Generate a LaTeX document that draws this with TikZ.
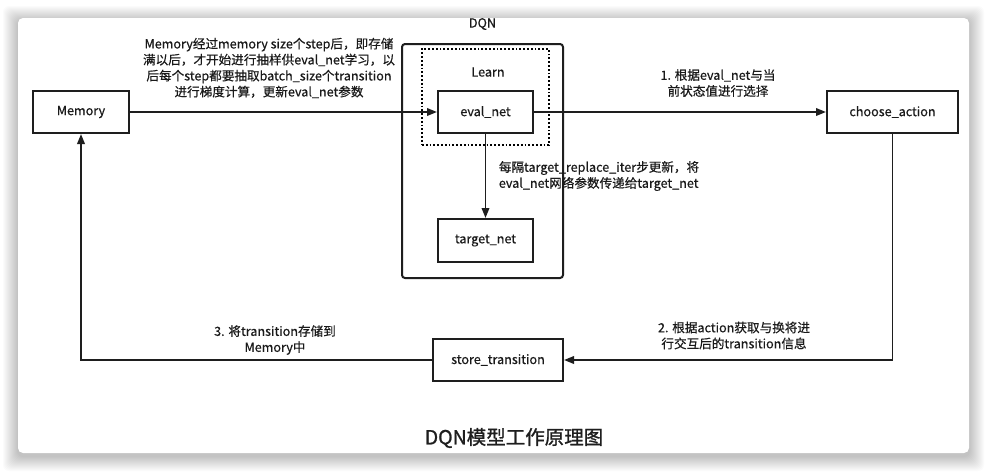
\documentclass[tikz,border=0pt]{standalone}
\usepackage{fontspec}
\setmainfont{Noto Sans CJK SC}[FakeBold=0.45]
\newfontfamily\titlefont{Noto Sans CJK SC}[FakeBold=1.1]
\usetikzlibrary{arrows.meta}
\definecolor{ink}{HTML}{1E1E1E}
\definecolor{txt}{HTML}{1A1A1A}
\tikzset{
  box/.style={draw=ink, line width=2pt, fill=white, inner sep=0pt, text=txt, font=\fontsize{12.6}{15}\selectfont},
  arr/.style={draw=ink, line width=1.9pt, -{Triangle[length=10pt,width=7.5pt]}},
  lbl/.style={align=center, text=txt, font=\fontsize{12.6}{16}\selectfont, inner sep=0pt},
}
\begin{document}
\begin{tikzpicture}[x=1pt,y=-1pt]
\useasboundingbox (0,0) rectangle (987,472);
\fill[white] (0,0) rectangle (987,472);
% shadow
\foreach \i in {1,...,15}{
  \fill[black, opacity=0.014, rounded corners=6pt] (18-\i,18-\i+3) rectangle (969+\i,453+\i+3);
}
\fill[white, rounded corners=5pt] (18,18) rectangle (969,453);

% DQN container
\node[draw=ink, line width=2pt, rounded corners=3pt, minimum width=161pt, minimum height=234pt, inner sep=0pt] (dqn) at (482.5,161) {};
\node[lbl] (dqnlbl) at (482.5,24) {DQN};
% Learn dotted
\node[draw=black, line width=1.8pt, dotted, minimum width=127pt, minimum height=96pt, inner sep=0pt] (learn) at (485.5,97) {};
\node[lbl] (learnlbl) at (488,72) {Learn};

% boxes
\node[box, minimum width=96pt, minimum height=42pt] (mem) at (81,112) {\raisebox{-1.5pt}{Memory}};
\node[box, minimum width=95pt, minimum height=42pt] (eval) at (485.5,112) {\raisebox{-1.5pt}{eval\_net}};
\node[box, minimum width=95pt, minimum height=43pt] (target) at (485.5,240.5) {\raisebox{-1.5pt}{target\_net}};
\node[box, minimum width=131pt, minimum height=42pt] (choose) at (892.5,112) {\raisebox{-1.5pt}{choose\_action}};
\node[box, minimum width=130pt, minimum height=42pt] (store) at (498,360) {\raisebox{-1.5pt}{store\_transition}};

% connectors
\draw[arr] (mem) -- (eval);
\draw[arr] (eval) -- (choose);
\draw[arr] (eval) -- (target);
\draw[arr] (choose.south) |- (store.east);
\draw[arr] (store.west) -| (mem.south);

% labels
\node[lbl] (l0) at (269,68) {Memory经过memory size个step后，即存储\\满以后，才开始进行抽样供eval\_net学习，以\\后每个step都要抽取batch\_size个transition\\进行梯度计算，更新eval\_net参数};
\node[lbl] (l1) at (718,83) {1. 根据eval\_net与当\\前状态值进行选择};
\node[lbl, align=left] (lu) at (599,176) {每隔target\_replace\_iter步更新，将\\eval\_net网络参数传递给target\_net};
\node[lbl] (l2) at (734,335.5) {2. 根据action获取与换将进\\行交互后的transition信息};
\node[lbl] (l3) at (275,340) {3. 将transition存储到\\Memory中};
\node[lbl, font=\titlefont\fontsize{19.5}{22}\selectfont, text=ink] (title) at (514,438) {DQN模型工作原理图};
\end{tikzpicture}
\end{document}
